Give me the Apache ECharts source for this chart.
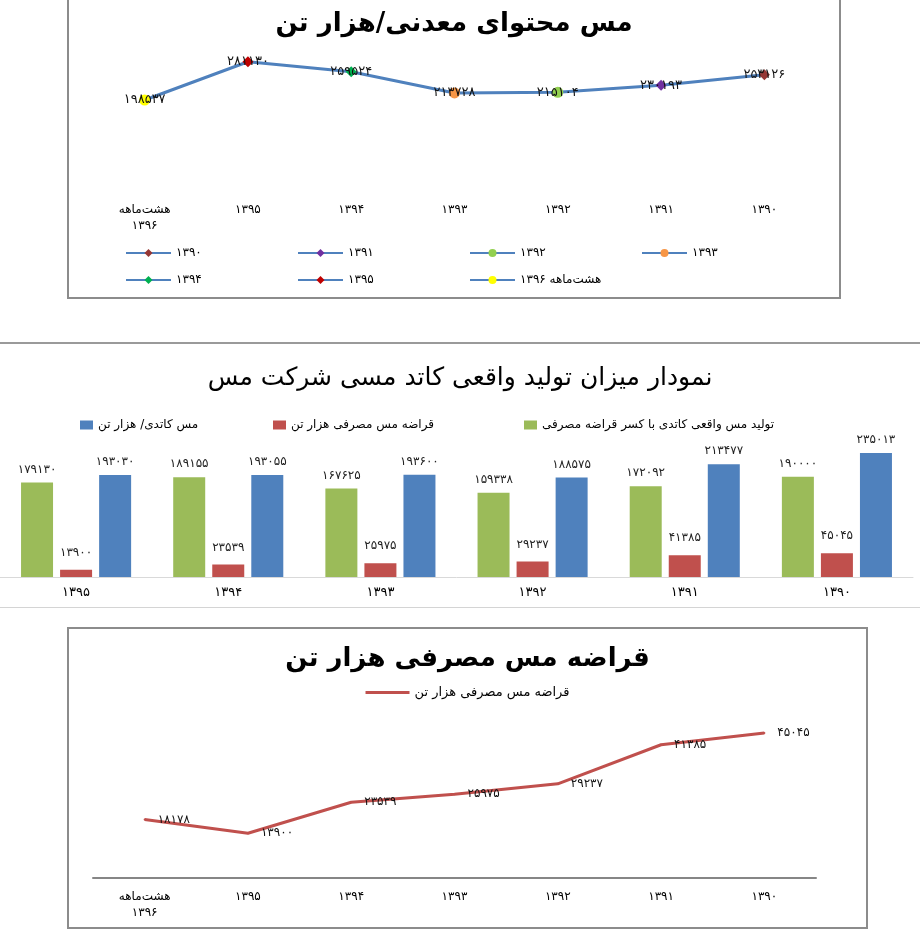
<!DOCTYPE html>
<html>
<head>
<meta charset="utf-8">
<script src="https://cdn.jsdelivr.net/npm/echarts@6/dist/echarts.min.js"></script>
<style>
body { margin: 0; background: #fff; width: 920px; height: 947px; overflow: hidden; position: relative; }
.box { position: absolute; }
.frame { position: absolute; box-sizing: border-box; border: 2px solid #8c8c8c; }
</style>
</head>
<body>
<div class="frame" style="left:67px;top:-6px;width:774px;height:305px;"></div>
<div id="chart1" class="box" style="left:68px;top:0;width:772px;height:297px;"></div>
<div style="position:absolute;left:0;top:342px;width:920px;height:2px;background:#9a9a9a;"></div>
<div id="chart2" class="box" style="left:0;top:344px;width:920px;height:263px;"></div>
<div style="position:absolute;left:0;top:607px;width:920px;height:1px;background:#d4d4d4;"></div>
<div class="frame" style="left:67px;top:627px;width:801px;height:302px;"></div>
<div id="chart3" class="box" style="left:69px;top:629px;width:797px;height:298px;"></div>
<script>
// سال‌ها
const years = ['۱۳۹۰', '۱۳۹۱', '۱۳۹۲', '۱۳۹۳', '۱۳۹۴', '۱۳۹۵', 'هشت‌ماهه\n۱۳۹۶'];
const yearNames = ['۱۳۹۰', '۱۳۹۱', '۱۳۹۲', '۱۳۹۳', '۱۳۹۴', '۱۳۹۵', 'هشت‌ماهه ۱۳۹۶'];

// مس محتوای معدنی / هزار تن
const metalContent = [253126, 230193, 215104, 213728, 259524, 281130, 198537];

// تولید کاتد
const barYears = ['۱۳۹۰', '۱۳۹۱', '۱۳۹۲', '۱۳۹۳', '۱۳۹۴', '۱۳۹۵'];
const cathodeNet = [190000, 172092, 159338, 167625, 189155, 179130];
const scrapUsed = [45045, 41385, 29237, 25975, 23539, 13900];
const cathodeTotal = [235013, 213477, 188575, 193600, 193055, 193030];

// قراضه مس مصرفی
const scrapYears = years;
const scrapTrend = [45045, 41385, 29237, 25975, 23539, 13900, 18178];

const pointColors = ['#953735', '#7030a0', '#92d050', '#f79646', '#00b050', '#c00000', '#ffff00'];
const pointSymbols = ['diamond', 'diamond', 'circle', 'circle', 'diamond', 'diamond', 'circle'];

const FONT = 'DejaVu Sans';
const BLUE = '#4f81bd', RED = '#c0504d', GREEN = '#9bbb59';

function toFa(n) {
    return String(n).replace(/\d/g, d => '۰۱۲۳۴۵۶۷۸۹'[d]);
}

// نمودار ۱
function renderMetalChart() {
    const chart = echarts.init(document.getElementById('chart1'));
    const pointSeries = yearNames.map((name, i) => ({
        name: name,
        type: 'line',
        data: metalContent.map((v, j) => (j === i ? v : '-')),
        symbol: pointSymbols[i],
        symbolSize: 11,
        showAllSymbol: true,
        itemStyle: { color: pointColors[i] },
        lineStyle: { color: BLUE, width: 3 },
        label: {
            show: true,
            position: 'inside',
            formatter: p => toFa(p.value),
            fontFamily: FONT,
            fontSize: 13,
            color: '#111'
        },
        z: 3
    }));
    chart.setOption({
        animation: false,
        title: {
            text: 'مس محتوای معدنی/هزار تن',
            left: 'center',
            top: 6,
            textStyle: { fontFamily: FONT, fontSize: 26, fontWeight: 'bold', color: '#000' }
        },
        legend: {
            data: yearNames,
            left: 52,
            top: 238,
            width: 700,
            itemWidth: 45,
            itemHeight: 10,
            itemGap: 7,
            textStyle: { fontFamily: FONT, fontSize: 12, color: '#000', width: 114, lineHeight: 20 }
        },
        grid: { left: 25, top: 53, width: 723, height: 139 },
        xAxis: {
            type: 'category',
            data: years,
            inverse: true,
            axisLine: { show: false },
            axisTick: { show: false },
            axisLabel: { fontFamily: FONT, fontSize: 12, color: '#000', margin: 10, interval: 0, lineHeight: 16 }
        },
        yAxis: { type: 'value', min: 0, max: 300000, show: false },
        series: [{
            name: 'line',
            type: 'line',
            data: metalContent,
            symbol: 'none',
            lineStyle: { color: BLUE, width: 3 },
            z: 2
        }].concat(pointSeries)
    });
}

// نمودار ۲
function renderCathodeChart() {
    const chart = echarts.init(document.getElementById('chart2'));
    const labelStyle = (dist) => ({
        show: true,
        position: 'top',
        distance: dist,
        formatter: p => toFa(p.value),
        fontFamily: FONT,
        fontSize: 12,
        color: '#222'
    });
    const legendBase = {
        top: 70,
        icon: 'rect',
        itemWidth: 13,
        itemHeight: 9,
        textStyle: { fontFamily: FONT, fontSize: 12, color: '#000' }
    };
    chart.setOption({
        animation: false,
        title: {
            text: 'نمودار میزان تولید واقعی کاتد مسی شرکت مس',
            left: 'center',
            top: 17,
            textStyle: { fontFamily: FONT, fontSize: 25, fontWeight: 'normal', color: '#000' }
        },
        legend: [
            Object.assign({ data: ['مس کاتدی/ هزار تن'], left: 75 }, legendBase),
            Object.assign({ data: ['قراضه مس مصرفی هزار تن'], left: 268 }, legendBase),
            Object.assign({ data: ['تولید مس واقعی کاتدی با کسر قراضه مصرفی'], left: 519 }, legendBase)
        ],
        grid: { left: -4, top: 101, width: 917, height: 132 },
        xAxis: {
            type: 'category',
            data: barYears,
            inverse: true,
            axisLine: { lineStyle: { color: '#d9d9d9', width: 1 } },
            axisTick: { show: false },
            axisLabel: { fontFamily: FONT, fontSize: 13, color: '#000', margin: 9 }
        },
        yAxis: { type: 'value', min: 0, max: 250000, show: false },
        series: [
            {
                name: 'تولید مس واقعی کاتدی با کسر قراضه مصرفی',
                type: 'bar',
                data: cathodeNet,
                barWidth: 32,
                barGap: '22%',
                itemStyle: { color: GREEN },
                label: labelStyle(7)
            },
            {
                name: 'قراضه مس مصرفی هزار تن',
                type: 'bar',
                data: scrapUsed,
                barWidth: 32,
                barGap: '22%',
                itemStyle: { color: RED },
                label: labelStyle(11)
            },
            {
                name: 'مس کاتدی/ هزار تن',
                type: 'bar',
                data: cathodeTotal,
                barWidth: 32,
                barGap: '22%',
                itemStyle: { color: BLUE },
                label: labelStyle(7)
            }
        ]
    });
}

// نمودار ۳
function renderScrapChart() {
    const chart = echarts.init(document.getElementById('chart3'));
    chart.setOption({
        animation: false,
        title: {
            text: 'قراضه مس مصرفی هزار تن',
            left: 'center',
            top: 12,
            textStyle: { fontFamily: FONT, fontSize: 26, fontWeight: 'bold', color: '#000' }
        },
        legend: {
            data: [{ name: 'قراضه مس مصرفی هزار تن', icon: 'rect' }],
            left: 'center',
            top: 52,
            itemWidth: 44,
            itemHeight: 3,
            textStyle: { fontFamily: FONT, fontSize: 13, color: '#000' }
        },
        grid: { left: 24, top: 88, width: 723, height: 161 },
        xAxis: {
            type: 'category',
            data: scrapYears,
            inverse: true,
            axisLine: { lineStyle: { color: '#868686', width: 2 } },
            axisTick: { show: false },
            axisLabel: { fontFamily: FONT, fontSize: 12, color: '#000', margin: 11, interval: 0, lineHeight: 16 }
        },
        yAxis: { type: 'value', min: 0, max: 50000, show: false },
        series: [{
            name: 'قراضه مس مصرفی هزار تن',
            type: 'line',
            data: scrapTrend,
            symbol: 'circle',
            symbolSize: 2,
            showAllSymbol: true,
            lineStyle: { color: RED, width: 3 },
            itemStyle: { color: RED },
            label: {
                show: true,
                position: 'right',
                distance: 12,
                formatter: p => toFa(p.value),
                fontFamily: FONT,
                fontSize: 12,
                color: '#111'
            }
        }]
    });
}

renderMetalChart();
renderCathodeChart();
renderScrapChart();
</script>
</body>
</html>
